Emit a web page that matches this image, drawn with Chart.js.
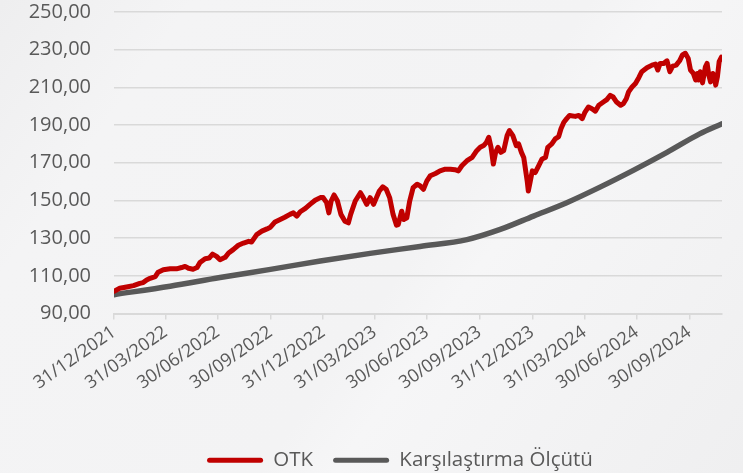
<!DOCTYPE html>
<html>
<head>
<meta charset="utf-8">
<script src="https://cdn.jsdelivr.net/npm/chart.js@4.4.1/dist/chart.umd.min.js"></script>
<style>
  html, body { margin: 0; padding: 0; }
  body {
    width: 743px; height: 473px; overflow: hidden;
    background: linear-gradient(125deg, #eeeeef 0%, #f4f4f5 18%, #f3f3f4 55%, #f6f6f7 62%, #efeff0 100%);
  }
  #chart { display: block; }
</style>
</head>
<body>
<canvas id="chart" width="743" height="473"></canvas>
<script>
// Days since 31/12/2021, and index values (start = 100)
const otkDays = [0, 10, 22, 34, 45, 51, 57, 63, 72, 77, 86, 98, 109, 118, 124, 130, 138, 145, 150, 159,
  166, 172, 179, 185, 194, 200, 208, 217, 226, 235, 240, 249, 258, 267, 273, 281, 290, 298, 307, 313,
  319, 325, 334, 342, 351, 360, 365, 371, 375, 379, 384, 390, 396, 403, 409, 413, 421, 430, 435, 441,
  447, 453, 458, 463, 469, 475, 481, 487, 493, 496, 502, 506, 511, 516, 522, 529, 534, 540, 546, 552,
  561, 569, 578, 587, 595, 601, 607, 616, 625, 633, 639, 645, 650, 654, 658, 662, 666, 670, 675, 680,
  686, 690, 696, 702, 706, 711, 715, 718, 721, 723, 726, 730, 735, 741, 747, 753, 757, 764, 770, 776,
  780, 785, 790, 795, 805, 811, 817, 822, 828, 834, 840, 846, 854, 860, 866, 871, 877, 884, 889, 894,
  898, 904, 910, 916, 921, 930, 939, 945, 949, 953, 959, 965, 970, 975, 981, 987, 992, 997, 1002, 1006,
  1011, 1015, 1018, 1020, 1023, 1027, 1032, 1035, 1038, 1041, 1045, 1048, 1050, 1053, 1056, 1060];
const otkValues = [101.8, 103.4, 104.1, 104.8, 106.0, 106.4, 107.8, 108.7, 109.6, 111.9, 113.2, 113.7, 113.7, 114.4, 115.0, 114.0, 113.5, 114.4, 117.1, 119.1,
  119.4, 121.5, 120.3, 118.5, 119.8, 122.1, 123.9, 126.2, 127.4, 128.3, 127.9, 131.9, 133.7, 134.9, 135.8, 138.6, 139.9, 141.1, 142.6, 143.4,
  141.7, 144.0, 145.8, 147.9, 150.1, 151.5, 151.5, 148.8, 143.4, 149.7, 152.9, 149.7, 142.6, 139.0, 138.1, 142.6, 149.7, 154.1, 151.5, 147.9,
  151.5, 147.9, 151.5, 155.0, 157.2, 155.9, 151.5, 142.6, 136.9, 137.2, 144.3, 139.9, 140.8, 149.7, 156.8, 158.6, 157.8, 155.9, 160.4, 163.1,
  164.3, 165.7, 166.6, 166.6, 166.3, 165.7, 168.4, 171.1, 172.8, 176.4, 178.2, 179.1, 180.8, 183.5, 178.2, 169.3, 175.5, 178.2, 175.5, 176.4,
  184.4, 187.1, 184.4, 179.1, 180.0, 175.5, 172.8, 166.6, 160.4, 155.0, 159.5, 165.7, 164.8, 168.4, 172.0, 172.8, 178.2, 180.0, 182.7, 183.9,
  188.0, 191.5, 193.4, 195.1, 194.6, 195.1, 193.4, 196.9, 199.6, 198.7, 197.4, 200.5, 202.2, 203.5, 205.8, 204.9, 202.2, 200.5, 201.4, 204.0,
  207.6, 210.2, 212.1, 215.3, 218.3, 220.4, 221.8, 222.4, 219.2, 222.7, 222.7, 224.1, 218.3, 221.3, 221.8, 224.1, 227.2, 228.1, 225.4, 219.2,
  217.4, 213.9, 217.4, 213.9, 218.3, 212.4, 220.9, 222.7, 216.5, 212.9, 217.4, 215.6, 211.2, 215.6, 223.6, 226.0];

const benchDays = [0, 98, 185, 273, 360, 447, 534, 616, 674, 732, 790, 849, 907, 965, 1022, 1061];
const benchValues = [100.0, 104.5, 109.1, 113.4, 117.9, 121.9, 125.6, 129.2, 134.6, 141.7, 148.8, 157.2, 166.1, 175.5, 185.3, 190.7];

const tickDays = [0, 90, 181, 273, 365, 455, 546, 638, 730, 821, 912, 1004];
const tickLabels = ['31/12/2021', '31/03/2022', '30/06/2022', '30/09/2022', '31/12/2022', '31/03/2023',
  '30/06/2023', '30/09/2023', '31/12/2023', '31/03/2024', '30/06/2024', '30/09/2024'];

const seriesNames = ['OTK', 'Karşılaştırma Ölçütü'];
const seriesColors = ['#c00000', '#595959'];

const FONT = "'Open Sans', 'DejaVu Sans', sans-serif";
const TEXT_COLOR = '#595959';
const GRID_COLOR = '#d9d9d9';

function toPoints(days, values) {
  return days.map((d, i) => ({ x: d, y: values[i] }));
}

// legend sits a bit right of centre in the original
const legendShift = {
  id: 'legendShift',
  afterLayout(chart) {
    chart.legend.left += 39;
    chart.legend.right += 39;
  },
};

const chart = new Chart(document.getElementById('chart').getContext('2d'), {
  type: 'line',
  data: {
    datasets: [
      {
        label: seriesNames[0],
        data: toPoints(otkDays, otkValues),
        borderColor: seriesColors[0],
        backgroundColor: seriesColors[0],
        borderWidth: 5,
        borderCapStyle: 'round',
        borderJoinStyle: 'round',
        pointRadius: 0,
        tension: 0,
      },
      {
        label: seriesNames[1],
        data: toPoints(benchDays, benchValues),
        borderColor: seriesColors[1],
        backgroundColor: seriesColors[1],
        borderWidth: 5.5,
        borderCapStyle: 'round',
        pointRadius: 0,
        cubicInterpolationMode: 'monotone',
      },
    ],
  },
  plugins: [legendShift],
  options: {
    responsive: false,
    animation: false,
    layout: { padding: { left: 0, right: 21, top: 0, bottom: -7.5 } },
    plugins: {
      tooltip: { enabled: false },
      legend: {
        position: 'bottom',
        labels: {
          color: TEXT_COLOR,
          font: { family: FONT, size: 20.5 },
          boxWidth: 56,
          boxHeight: 5,
          padding: 20,
          useBorderRadius: true,
          borderRadius: 2.5,
          generateLabels: (c) => c.data.datasets.map((ds, i) => ({
            text: ds.label,
            fillStyle: seriesColors[i],
            strokeStyle: seriesColors[i],
            lineWidth: 0,
            fontColor: TEXT_COLOR,
            hidden: false,
            datasetIndex: i,
            borderRadius: 2.5,
          })),
        },
      },
    },
    scales: {
      x: {
        type: 'linear',
        min: 0,
        max: 1061,
        afterBuildTicks: (scale) => {
          scale.ticks = tickDays.map((v) => ({ value: v }));
        },
        afterFit: (scale) => { scale.height = 116.5; },
        ticks: {
          autoSkip: false,
          minRotation: 35,
          maxRotation: 35,
          padding: 2,
          color: TEXT_COLOR,
          font: { family: FONT, size: 18 },
          callback: (value) => tickLabels[tickDays.indexOf(value)],
        },
        grid: {
          drawOnChartArea: false,
          drawTicks: true,
          tickLength: 6,
          color: GRID_COLOR,
          lineWidth: 1.5,
        },
        border: { display: true, color: GRID_COLOR, width: 2 },
      },
      y: {
        min: 90,
        max: 250,
        afterFit: (scale) => {
          scale.width = 114;
          scale.paddingTop = 12;
          scale.paddingBottom = 0;
        },
        ticks: {
          stepSize: 20,
          padding: 23,
          color: TEXT_COLOR,
          font: { family: FONT, size: 20 },
          callback: (value) => value.toFixed(2).replace('.', ','),
        },
        grid: {
          drawTicks: false,
          color: GRID_COLOR,
          lineWidth: 1.5,
        },
        border: { display: false },
      },
    },
  },
});
</script>
</body>
</html>
